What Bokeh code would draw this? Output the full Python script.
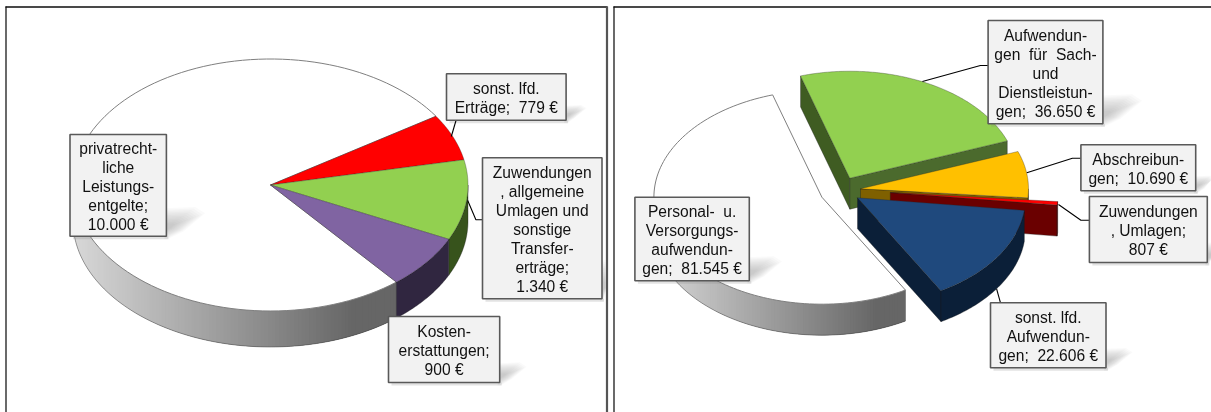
import numpy as np
from bokeh.plotting import figure
from bokeh.models import Range1d
from bokeh.core.properties import value
from bokeh.embed import file_html
from bokeh.resources import INLINE

# ---- data -------------------------------------------------------------
left_names = ["privatrechtliche Leistungsentgelte", "sonst. lfd. Erträge",
              "Zuwendungen, allgemeine Umlagen und sonstige Transfererträge",
              "Kostenerstattungen"]
left_values = [10000, 779, 1340, 900]
left_labels = [["privatrecht-", "liche", "Leistungs-", "entgelte;", "10.000 €"],
               ["sonst. lfd.", "Erträge;  779 €"],
               ["Zuwendungen", ", allgemeine", "Umlagen und", "sonstige", "Transfer-", "erträge;", "1.340 €"],
               ["Kosten-", "erstattungen;", "900 €"]]

right_names = ["Personal- u. Versorgungsaufwendungen", "Aufwendungen für Sach- und Dienstleistungen",
               "Abschreibungen", "Zuwendungen, Umlagen", "sonst. lfd. Aufwendungen"]
right_values = [81545, 36650, 10690, 807, 22606]
right_labels = [["Personal-  u.", "Versorgungs-", "aufwendun-", "gen;  81.545 €"],
                ["Aufwendun-", "gen  für  Sach-", "und", "Dienstleistun-", "gen;  36.650 €"],
                ["Abschreibun-", "gen;  10.690 €"],
                ["Zuwendungen", ", Umlagen;", "807 €"],
                ["sonst. lfd.", "Aufwendun-", "gen;  22.606 €"]]

# ---- styles and layout -------------------------------------------------
left_tops = ["#ffffff", "#ff0000", "#92d050", "#8064a2"]
left_walls = [None, "#7f0000", "#37531c", "#302640"]
right_tops = ["#ffffff", "#92d050", "#ffc000", "#ff0000", "#1f497d"]
right_walls = [None, "#4b6a2d", "#7f6000", "#6a0000", "#0b1f38"]
right_start_walls = [None, "#3f5c22", "#7f6000", "#6a0000", "#0b1f38"]

L = dict(rx=197.5, ry=126.0, depth=36.0, start=-50.4, radial=False, clip=605,
         apex=[(270, 184.5)] * 4,
         boxes=[(69.5, 134, 165.9, 235.7), (446, 73.3, 565.6, 119.7),
                (482, 157.3, 601.5, 298.3), (388, 316, 499.2, 382)],
         leaders=[[(455.5, 120), (450.8, 136)],
                  [(467.2, 200), (475.4, 219.3), (482, 219.3)]],
         grad=(72, 351))
R = dict(rx=168.0, ry=107.0, depth=31.0, start=-60.2, radial=True, clip=1211,
         apex=[(821.4, 196.7), (849.3, 177.7), (860, 188.3), (889.8, 192), (857, 197.3)],
         boxes=[(634.4, 196.7, 748.8, 280.3), (987.6, 20, 1102.4, 123.3),
                (1080.4, 144.3, 1195.2, 190.3), (1088.9, 196, 1206.8, 262),
                (990, 302.3, 1105.5, 367.3)],
         leaders=[[(921.9, 81), (979.9, 65), (987.6, 65)],
                  [(1026.3, 172.3), (1071.9, 157.7), (1080.4, 157.7)],
                  [(1058, 204), (1080.4, 219.7), (1088.9, 219.7)],
                  [(996.1, 288.3), (1000, 302.3)]],
         grad=(653, 875))

p = figure(width=1211, height=412, output_backend="svg", toolbar_location=None,
           x_range=Range1d(0, 1211), y_range=Range1d(412, 0), min_border=0,
           background_fill_color="#ffffff", styles={"filter": "blur(0.35px)"})
p.axis.visible = False
p.grid.visible = False
p.outline_line_color = None


def lerp_gray(x, x0, x1):
    t = min(max((x - x0) / (x1 - x0), 0.0), 1.0)
    g = int(round(216 + (102 - 216) * t))
    return "#%02x%02x%02x" % (g, g, g)


def pt(a, ang, rx, ry):
    r = np.radians(ang)
    return a[0] + rx * np.cos(r), a[1] - ry * np.sin(r)


def lower_part(a0, a1):
    """Clockwise range a0 -> a1: the part facing the viewer (sin < 0)."""
    for k in (-1, 0, 1):
        hi, lo = 360 * k, 360 * k - 180
        s, e = min(a0, hi), max(a1, lo)
        if s > e:
            return s, e
    return None


def draw_pie(values, tops, walls, start_walls, g):
    rx, ry, d = g["rx"], g["ry"], g["depth"]
    sweep = 360.0 * np.array(values, dtype=float) / sum(values)
    ang = g["start"]
    for i, sw in enumerate(sweep):
        a0, a1 = ang, ang - sw
        ang = a1
        A = g["apex"][i]
        P0 = pt(A, a0, rx, ry)
        P1 = pt(A, a1, rx, ry)
        sw0 = start_walls[i] if start_walls else walls[i]
        # radial walls facing the viewer
        if g["radial"] and np.cos(np.radians(a0)) < 0 and walls[i]:
            p.patch([A[0], P0[0], P0[0], A[0]], [A[1], P0[1], P0[1] + d, A[1] + d],
                    fill_color=sw0, line_color="#1a1a1a", line_alpha=0.5, line_width=0.7)
        if g["radial"] and np.cos(np.radians(a1)) > 0 and walls[i]:
            p.patch([A[0], P1[0], P1[0], A[0]], [A[1], P1[1], P1[1] + d, A[1] + d],
                    fill_color=walls[i], line_color="#1a1a1a", line_alpha=0.5, line_width=0.7)
        # rim wall
        part = lower_part(a0, a1)
        if part:
            s, e = part
            if walls[i]:
                th = np.linspace(s, e, 60)
                xs, ys = pt(A, th, rx, ry)
                p.patch(list(xs) + list(xs[::-1]), list(ys) + list((ys + d)[::-1]),
                        fill_color=walls[i], line_color="#1a1a1a", line_alpha=0.5, line_width=0.7)
            else:
                th = np.linspace(s, e, 120)
                xs, ys = pt(A, th, rx, ry)
                n = len(th)
                for k in range(n - 1, 0, -1):
                    c = lerp_gray(xs[k], *g["grad"])
                    j = max(k - 3, 0)
                    p.patch([xs[k], xs[j], xs[j], xs[k]],
                            [ys[k], ys[j], ys[j] + d, ys[k] + d],
                            fill_color=c, line_color=None)
                p.line(xs, ys + d, line_color="#404040", line_alpha=0.6, line_width=0.8)
        # top face
        th = np.linspace(a0, a1, 120)
        xs, ys = pt(A, th, rx, ry)
        white = tops[i] == "#ffffff"
        p.patch([A[0]] + list(xs), [A[1]] + list(ys), fill_color=tops[i],
                line_color="#7f7f7f" if white else "#262626",
                line_alpha=1.0 if white else 0.45, line_width=1.0 if white else 0.7)


def draw_labels(labels, g):
    # soft shadows
    for (x0, y0, x1, y1) in g["boxes"]:
        h = y1 - y0
        tipx, tipy = 0.33 * h + 5, 0.22 * h + 3
        cx, cy = x1 + 1, y1 - 0.35 * tipy
        base = [(x1 - 2, y1 - 1.1 * tipy), (x1 + 0.75 * tipx, y1 - 1.15 * tipy), (x1 + tipx, y1 - 0.9 * tipy),
                (x1 + 0.45 * tipx, y1 - 0.2 * tipy), (x1 + 1, y1 + 3), (x1 - 2, y1 + 3)]
        for s in np.linspace(1.0, 0.2, 12):
            p.patch([min(cx + (a - cx) * s, g["clip"]) for a, b in base], [cy + (b - cy) * s for a, b in base],
                    fill_color="#787878", fill_alpha=0.04, line_color=None)
        p.patch([x0 + 3, x1 + 2, x1 + 2, x0 + 3], [y1, y1, y1 + 3, y1 + 3],
                fill_color="#808080", fill_alpha=0.22, line_color=None)
    # leader lines
    for ln in g["leaders"]:
        p.line([a for a, b in ln], [b for a, b in ln], line_color="#000000", line_width=1.1)
    # boxes and texts
    for box, lines in zip(g["boxes"], labels):
        x0, y0, x1, y1 = box
        p.quad(left=x0, right=x1, top=y0, bottom=y1, fill_color="#f2f2f2",
               line_color="#595959", line_width=1.6)
        n = len(lines)
        cy = (y0 + y1) / 2 + 1
        for j, t in enumerate(lines):
            p.text(x=[(x0 + x1) / 2], y=[cy + (j - (n - 1) / 2) * 19.0],
                   text=[t.replace("  ", "\u00a0\u00a0")], text_align="center", text_baseline="middle",
                   text_font=value("Liberation Sans"), text_font_size="15.6px", text_color="#111111")


draw_pie(left_values, left_tops, left_walls, None, L)
draw_pie(right_values, right_tops, right_walls, right_start_walls, R)
draw_labels(left_labels, L)
draw_labels(right_labels, R)

# panel frames
for xs, ys, c, w in [([5.5, 5.5], [6, 412], "#1a1a1a", 1.3), ([5, 607], [6.5, 6.5], "#0d0d0d", 1.3),
                     ([606.5, 606.5], [6, 412], "#555555", 2.2),
                     ([613.5, 613.5], [6, 412], "#1a1a1a", 1.3), ([613, 1211], [6.5, 6.5], "#0d0d0d", 1.3)]:
    p.line(xs, ys, line_color=c, line_width=w)

open("out.html", "w").write(file_html(p, INLINE))
